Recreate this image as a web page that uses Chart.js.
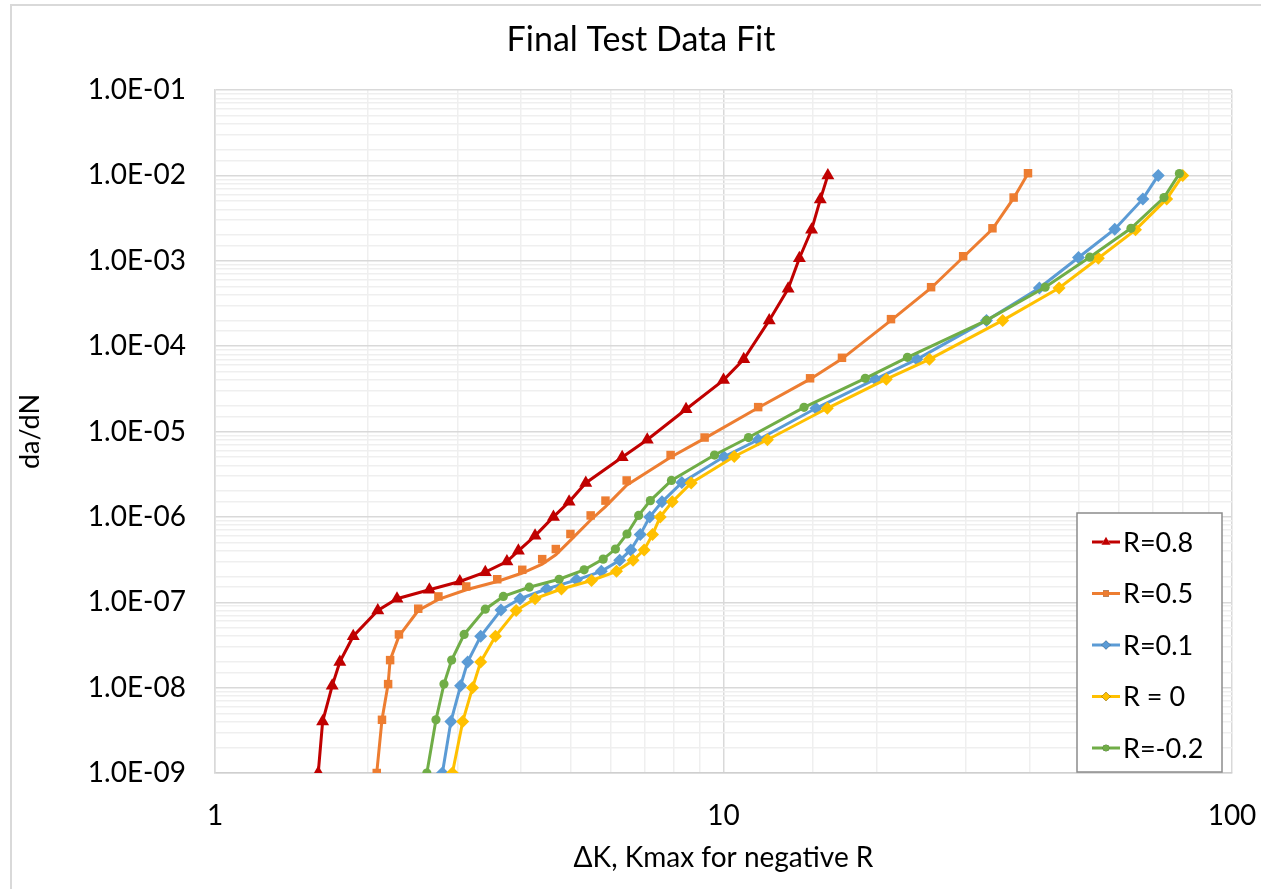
<!DOCTYPE html>
<html>
<head>
<meta charset="utf-8">
<title>Final Test Data Fit</title>
<script src="https://cdn.jsdelivr.net/npm/chart.js@4/dist/chart.umd.min.js"></script>
<style>
  html, body { margin: 0; padding: 0; background: #fff; }
  #chart { display: block; }
</style>
</head>
<body>
<canvas id="chart" width="1261" height="889"></canvas>
<script>
// delta K values and crack growth rates (da/dN) per stress ratio
const kR08 = [1.596, 1.628, 1.70, 1.76, 1.87, 2.09, 2.28, 2.64, 3.03, 3.40, 3.75, 3.95, 4.26, 4.63, 4.97, 5.36, 6.32, 7.08, 8.44, 10.0, 10.96, 12.3, 13.4, 14.1, 14.9, 15.5, 16.04];
const dadnR08 = [1e-9, 4e-9, 1.05e-8, 2e-8, 4e-8, 8e-8, 1.1e-7, 1.4e-7, 1.75e-7, 2.25e-7, 3e-7, 4e-7, 6e-7, 1e-6, 1.5e-6, 2.5e-6, 5e-6, 8e-6, 1.82e-5, 4e-5, 7e-5, 2e-4, 4.7e-4, 1.07e-3, 2.3e-3, 5.2e-3, 1e-2];

const kR05 = [2.08, 2.13, 2.19, 2.21, 2.30, 2.51, 2.75, 3.12, 3.59, 4.02, 4.40, 4.68, 5.00, 5.48, 5.86, 6.45, 7.87, 9.18, 11.7, 14.8, 17.1, 21.35, 25.6, 29.6, 33.8, 37.2, 39.7];
const dadnR05 = [1e-9, 4.2e-9, 1.1e-8, 2.1e-8, 4.2e-8, 8.4e-8, 1.17e-7, 1.53e-7, 1.86e-7, 2.4e-7, 3.2e-7, 4.2e-7, 6.3e-7, 1.04e-6, 1.55e-6, 2.67e-6, 5.3e-6, 8.5e-6, 1.93e-5, 4.2e-5, 7.3e-5, 2.07e-4, 4.9e-4, 1.13e-3, 2.4e-3, 5.5e-3, 1.06e-2];
const fitR05 = [1e-9, 4.2e-9, 1.1e-8, 2.1e-8, 4e-8, 8e-8, 1.08e-7, 1.4e-7, 1.75e-7, 2.2e-7, 2.8e-7, 3.6e-7, 5.3e-7, 9.2e-7, 1.32e-6, 2.35e-6, 5e-6, 8.3e-6, 1.9e-5, 4.1e-5, 7.1e-5, 2e-4, 4.8e-4, 1.1e-3, 2.35e-3, 5.4e-3, 1.05e-2];

const kR01 = [2.80, 2.91, 3.04, 3.14, 3.33, 3.65, 3.98, 4.49, 5.14, 5.75, 6.25, 6.57, 6.86, 7.16, 7.57, 8.28, 10.02, 11.7, 15.2, 19.9, 24.0, 32.9, 41.8, 49.9, 58.8, 66.8, 71.6];
const dadnR01 = [1e-9, 4e-9, 1.05e-8, 2e-8, 4e-8, 8.1e-8, 1.1e-7, 1.43e-7, 1.83e-7, 2.3e-7, 3.1e-7, 4.1e-7, 6.2e-7, 1e-6, 1.5e-6, 2.52e-6, 5.05e-6, 8e-6, 1.87e-5, 4.1e-5, 7e-5, 2e-4, 4.8e-4, 1.09e-3, 2.34e-3, 5.3e-3, 1e-2];

const kR00 = [2.93, 3.07, 3.21, 3.33, 3.56, 3.91, 4.26, 4.80, 5.50, 6.16, 6.64, 6.98, 7.25, 7.51, 7.93, 8.64, 10.5, 12.2, 16.0, 20.9, 25.4, 35.4, 45.7, 54.6, 64.6, 74.4, 80.0];
const dadnR00 = [1e-9, 4e-9, 1e-8, 2e-8, 4e-8, 8e-8, 1.1e-7, 1.43e-7, 1.8e-7, 2.3e-7, 3.1e-7, 4.1e-7, 6.2e-7, 1e-6, 1.5e-6, 2.5e-6, 5.1e-6, 8e-6, 1.87e-5, 4.1e-5, 7e-5, 2e-4, 4.8e-4, 1.07e-3, 2.3e-3, 5.3e-3, 1e-2];

const kRm02 = [2.61, 2.72, 2.82, 2.92, 3.09, 3.40, 3.69, 4.15, 4.75, 5.32, 5.80, 6.13, 6.46, 6.81, 7.18, 7.90, 9.6, 11.2, 14.4, 19.0, 23.0, 32.9, 42.9, 52.5, 63.3, 73.5, 78.8];
const dadnRm02 = [1e-9, 4.2e-9, 1.1e-8, 2.1e-8, 4.2e-8, 8.3e-8, 1.17e-7, 1.5e-7, 1.86e-7, 2.4e-7, 3.2e-7, 4.2e-7, 6.3e-7, 1.04e-6, 1.55e-6, 2.67e-6, 5.3e-6, 8.5e-6, 1.92e-5, 4.2e-5, 7.4e-5, 2e-4, 4.9e-4, 1.1e-3, 2.4e-3, 5.5e-3, 1.05e-2];

const seriesLabels = ['R=0.8', 'R=0.5', 'R=0.1', 'R = 0', 'R=-0.2'];
const seriesColors = ['#C00000', '#ED7D31', '#5B9BD5', '#FFC000', '#70AD47'];
const seriesMarkers = ['triangle', 'rect', 'rectRot', 'rectRot', 'circle'];
const markerSizes = [7.5, 6, 6.5, 6.5, 4.6];

const xTickLabels = [1, 10, 100];
const chartTitle = 'Final Test Data Fit';

function toPoints(xs, ys) {
    return xs.map((x, i) => ({ x: x, y: ys[i] }));
}

function isDecade(v) {
    const l = Math.log10(v);
    return Math.abs(l - Math.round(l)) < 1e-6;
}

function sciLabel(v) {
    const e = Math.round(Math.log10(v));
    const sign = e < 0 ? '-' : '+';
    const digits = String(Math.abs(e)).padStart(2, '0');
    return '1.0E' + sign + digits;
}

const seriesData = [
    toPoints(kR08, dadnR08),
    toPoints(kR05, dadnR05),
    toPoints(kR01, dadnR01),
    toPoints(kR00, dadnR00),
    toPoints(kRm02, dadnRm02)
];

const datasets = seriesData.map((pts, i) => ({
    label: seriesLabels[i],
    data: pts,
    // R=0.5 markers sit off the fitted curve, so its line is a separate dataset
    showLine: i !== 1,
    borderColor: seriesColors[i],
    backgroundColor: seriesColors[i],
    borderWidth: 3,
    pointStyle: seriesMarkers[i],
    pointRadius: markerSizes[i],
    pointBorderWidth: 0,
    pointHoverRadius: markerSizes[i],
    tension: 0,
    order: 10 - i * 2
}));

datasets.push({
    label: 'R=0.5 fit',
    data: toPoints(kR05, fitR05),
    showLine: true,
    borderColor: seriesColors[1],
    backgroundColor: seriesColors[1],
    borderWidth: 3,
    pointRadius: 0,
    pointHoverRadius: 0,
    tension: 0,
    order: 9
});

// white page, outer frame, title and the boxed legend inside the plot
const framePlugin = {
    id: 'frame',
    beforeDraw(chart) {
        const ctx = chart.ctx;
        ctx.save();
        ctx.fillStyle = '#fff';
        ctx.fillRect(0, 0, chart.width, chart.height);
        ctx.strokeStyle = '#d9d9d9';
        ctx.lineWidth = 2;
        ctx.strokeRect(11, 5, chart.width + 20, chart.height + 20);

        ctx.fillStyle = '#000';
        ctx.font = '34px Lato';
        ctx.textAlign = 'center';
        ctx.textBaseline = 'middle';
        ctx.fillText(chartTitle, 641, 40);
        ctx.restore();
    },
    afterDatasetsDraw(chart) {
        const ctx = chart.ctx;
        const area = chart.chartArea;
        const boxW = 145, boxH = 259;
        const bx = area.right - 10 - boxW;
        const by = area.bottom - 1 - boxH;
        ctx.save();
        ctx.fillStyle = '#fff';
        ctx.fillRect(bx, by, boxW, boxH);
        ctx.strokeStyle = '#8c8c8c';
        ctx.lineWidth = 1.5;
        ctx.strokeRect(bx, by, boxW, boxH);

        ctx.font = '27px Lato';
        ctx.textBaseline = 'middle';
        ctx.textAlign = 'left';
        seriesLabels.forEach((label, i) => {
            const cy = by + 29 + i * 51.5;
            ctx.strokeStyle = seriesColors[i];
            ctx.lineWidth = 3;
            ctx.beginPath();
            ctx.moveTo(bx + 15, cy);
            ctx.lineTo(bx + 43, cy);
            ctx.stroke();
            Chart.helpers.drawPoint(ctx, {
                pointStyle: seriesMarkers[i],
                radius: markerSizes[i] * 0.7,
                rotation: 0,
                borderWidth: 0
            }, bx + 29, cy);
            ctx.fillStyle = seriesColors[i];
            ctx.fill();
            ctx.fillStyle = '#000';
            ctx.fillText(label, bx + 46, cy + 1);
        });
        ctx.restore();
    }
};

const ctx = document.getElementById('chart').getContext('2d');
new Chart(ctx, {
    type: 'scatter',
    data: { datasets: datasets },
    plugins: [framePlugin],
    options: {
        responsive: false,
        animation: false,
        devicePixelRatio: 1,
        layout: { padding: { left: 0, right: 29, top: 90, bottom: 0 } },
        plugins: {
            legend: { display: false },
            tooltip: { enabled: false },
            title: { display: false }
        },
        scales: {
            x: {
                type: 'logarithmic',
                min: 1,
                max: 100,
                afterFit(scale) {
                    scale.height = 116;
                    // the end labels fit inside the layout padding
                    scale.paddingLeft = 0;
                    scale.paddingRight = 0;
                },
                grid: {
                    drawTicks: false,
                    color: (c) => (c.tick && isDecade(c.tick.value)) ? '#d9d9d9' : '#efefef',
                    lineWidth: 1.5
                },
                border: { color: '#cfcfcf', width: 1.5 },
                ticks: {
                    autoSkip: false,
                    maxRotation: 0,
                    padding: 26,
                    color: '#000',
                    font: { family: 'Lato', size: 28 },
                    callback: (v) => xTickLabels.some(t => Math.abs(t - v) < 1e-9) ? String(v) : ''
                },
                title: {
                    display: true,
                    text: 'ΔK, Kmax for negative R',
                    color: '#000',
                    font: { family: 'Lato', size: 28 },
                    padding: { top: 0, bottom: 14 }
                }
            },
            y: {
                type: 'logarithmic',
                min: 1e-9,
                max: 1e-1,
                afterFit(scale) { scale.width = 215; },
                grid: {
                    drawTicks: false,
                    color: (c) => (c.tick && isDecade(c.tick.value)) ? '#d9d9d9' : '#efefef',
                    lineWidth: 1.5
                },
                border: { color: '#d9d9d9', width: 1.5 },
                ticks: {
                    autoSkip: false,
                    padding: 29,
                    color: '#000',
                    font: { family: 'Lato', size: 28 },
                    callback: (v) => isDecade(v) ? sciLabel(v) : ''
                },
                title: {
                    display: true,
                    text: 'da/dN',
                    color: '#000',
                    font: { family: 'Lato', size: 27 },
                    padding: { top: 14, bottom: 0 }
                }
            }
        }
    }
});
</script>
</body>
</html>
